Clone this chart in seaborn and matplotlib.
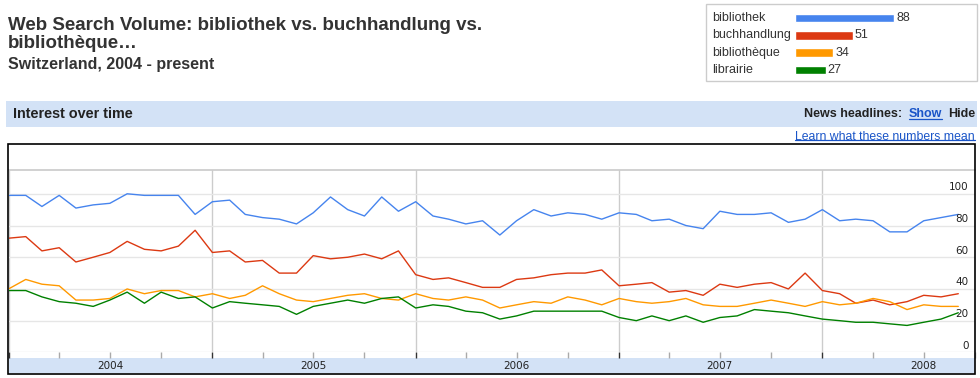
import numpy as np
import pandas as pd
import matplotlib
matplotlib.use('Agg')
import matplotlib.pyplot as plt
import matplotlib.dates as mdates
import matplotlib.transforms as mtransforms
from matplotlib.patches import Rectangle
from matplotlib.lines import Line2D
import seaborn as sns

# Data
terms = ['bibliothek', 'buchhandlung', 'bibliothèque', 'librairie']
colors = ['#4684ee', '#dc3912', '#ff9900', '#008000']
averages = [88, 51, 34, 27]
years = [2004, 2005, 2006, 2007, 2008]
y_labels = [0, 20, 40, 60, 80, 100]

months = pd.date_range('2004-01-01', periods=57, freq='MS')

bibliothek = [99, 99, 92, 99, 91, 93, 94, 100, 99, 99, 99, 87,
              95, 96, 87, 85, 84, 81, 88, 98, 90, 86, 98, 89,
              95, 86, 84, 81, 83, 74, 83, 90, 86, 88, 87, 84,
              88, 87, 83, 84, 80, 78, 89, 87, 87, 88, 82, 84,
              90, 83, 84, 83, 76, 76, 83, 85, 87]
buchhandlung = [72, 73, 64, 66, 57, 60, 63, 70, 65, 64, 67, 77,
                63, 64, 57, 58, 50, 50, 61, 59, 60, 62, 59, 64,
                49, 46, 47, 44, 41, 41, 46, 47, 49, 50, 50, 52,
                42, 43, 44, 38, 39, 36, 43, 41, 43, 44, 40, 50,
                39, 37, 31, 33, 30, 32, 36, 35, 37]
bibliotheque = [40, 46, 43, 42, 33, 33, 34, 40, 37, 39, 39, 35,
                37, 34, 36, 42, 37, 33, 32, 34, 36, 37, 34, 33,
                37, 34, 33, 35, 33, 28, 30, 32, 31, 35, 33, 30,
                34, 32, 31, 32, 34, 30, 29, 29, 31, 33, 31, 29,
                32, 30, 31, 34, 32, 27, 30, 29, 29]
librairie = [39, 39, 35, 32, 31, 29, 33, 38, 31, 38, 34, 35,
             28, 32, 31, 30, 29, 24, 29, 31, 33, 31, 34, 35,
             28, 30, 29, 26, 25, 21, 23, 26, 26, 26, 26, 26,
             22, 20, 23, 20, 23, 19, 22, 23, 27, 26, 25, 23,
             21, 20, 19, 19, 18, 17, 19, 21, 25]

series = [bibliothek, buchhandlung, bibliotheque, librairie]
df = pd.concat([pd.DataFrame({'month': months, 'value': v, 'term': t})
                for t, v in zip(terms, series)], ignore_index=True)

sns.set_theme(style='white')
plt.rcParams['font.family'] = ['Liberation Sans', 'DejaVu Sans']

W, H = 980, 378
def fx(px):
    return px / W
def fy(py):
    return 1 - py / H

fig = plt.figure(figsize=(9.8, 3.78), dpi=100)

# Titles
dark = '#333333'
fig.text(fx(8), fy(30), 'Web Search Volume: bibliothek vs. buchhandlung vs.',
         fontsize=13.5, weight='bold', color=dark, va='baseline')
fig.text(fx(8), fy(48.5), 'bibliothèque…', fontsize=13.5, weight='bold',
         color=dark, va='baseline')
fig.text(fx(8), fy(69.5), 'Switzerland, 2004 - present', fontsize=11.5,
         weight='bold', color=dark, va='baseline')

# Legend box with averages
fig.add_artist(Rectangle((fx(706), fy(81)), fx(271), 77 / H, transform=fig.transFigure,
                         fill=False, edgecolor='#cccccc', lw=1))
lax = fig.add_axes([fx(795), fy(78.6), 169.5 / W, 69.3 / H])
sns.barplot(x=averages, y=terms, hue=terms, palette=colors, orient='h',
            saturation=1, width=0.5, legend=False, ax=lax)
lax.set_xlim(0, 150)
lax.set_ylim(3.5, -0.5)
lax.axis('off')
lab_tr = mtransforms.blended_transform_factory(fig.transFigure, lax.transData)
for i, (t, v) in enumerate(zip(terms, averages)):
    fig.text(fx(712), i, t, transform=lab_tr, va='center', fontsize=9, color=dark)
    lax.text(v + 1.5, i, str(v), va='center', fontsize=9, color=dark)

# Header band
band_col = '#d3e2f6'
fig.add_artist(Rectangle((fx(6), fy(127)), fx(971), 26 / H, transform=fig.transFigure,
                         facecolor=band_col, edgecolor='none', zorder=-1))
fig.text(fx(12.5), fy(114), 'Interest over time', fontsize=10.4, weight='bold',
         color='#222222', va='center')

fig.canvas.draw()
r = fig.canvas.get_renderer()

def underline(t, col, off=1.5):
    bb = t.get_window_extent(r)
    y = bb.y0 + off
    fig.add_artist(Line2D([bb.x0 / W, bb.x1 / W], [y / H, y / H], transform=fig.transFigure,
                          color=col, lw=0.9))

link = '#1a55c8'
x = 975
for s, c, ul in [('Hide', '#222222', False), ('Show', link, True), ('News headlines:', '#222222', False)]:
    t = fig.text(fx(x), fy(114), s, ha='right', va='center', fontsize=9,
                 weight='bold', color=c)
    bb = t.get_window_extent(r)
    if ul:
        underline(t, c)
    x = bb.x0 - 6
t = fig.text(fx(975), fy(136.5), 'Learn what these numbers mean', ha='right', va='center',
             fontsize=8.8, color=link)
underline(t, link, off=2.5)

# Chart frame and bottom band
fig.add_artist(Rectangle((fx(8.5), fy(373)), fx(966.5), 15 / H, transform=fig.transFigure,
                         facecolor=band_col, edgecolor='none', zorder=-1))
fig.add_artist(Rectangle((fx(8), fy(373.5)), fx(967), 229.5 / H, transform=fig.transFigure,
                         fill=False, edgecolor='black', lw=1.2, zorder=5))

# Main line chart
ax = fig.add_axes([fx(8.5), fy(352.4), (975 - 8.5) / W, (352.4 - 170) / H])
sns.lineplot(data=df, x='month', y='value', hue='term', hue_order=terms,
             palette=dict(zip(terms, colors)), linewidth=1.0, legend=False, ax=ax)
ax.set_xlim(months[0], pd.Timestamp('2008-10-01'))
ax.set_ylim(0, 115)
ax.set_xlabel('')
ax.set_ylabel('')
ax.set_yticks(y_labels)
ax.xaxis.set_major_locator(mdates.MonthLocator(bymonth=[1]))
ax.xaxis.set_minor_locator(mdates.MonthLocator(bymonth=[4, 7, 10]))
ax.grid(True, axis='y', color='#e6e6e6', lw=1)
ax.grid(True, axis='x', which='major', color='#cccccc', lw=1)
ax.set_axisbelow(True)
ax.tick_params(axis='x', which='major', length=4, width=1, color='#333333',
               direction='out', labelbottom=False, bottom=True)
ax.tick_params(axis='x', which='minor', length=4, width=1, color='#aaaaaa',
               direction='out', bottom=True)
ax.tick_params(axis='y', length=0, labelleft=False)
for side in ['left', 'right', 'bottom']:
    ax.spines[side].set_visible(False)
ax.spines['top'].set_color('#cccccc')

ytr = mtransforms.blended_transform_factory(ax.transAxes, ax.transData)
for v in y_labels:
    ax.text(0.9935, v + 2.3, str(v), transform=ytr, ha='right', va='baseline',
            fontsize=7.5, family='DejaVu Sans', color='#222222')
xtr = mtransforms.blended_transform_factory(ax.transData, ax.transAxes)
for yr in years:
    ax.text(mdates.date2num(pd.Timestamp(f'{yr}-07-01')), -0.072, str(yr), transform=xtr,
            ha='center', va='center', fontsize=7.5, family='DejaVu Sans', color='#222222',
            clip_on=False)

fig.savefig('out.png', dpi=100)
